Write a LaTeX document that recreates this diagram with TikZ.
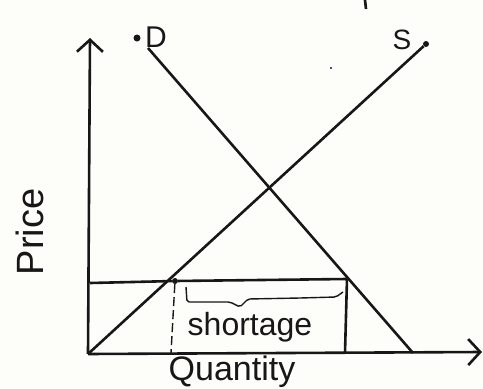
\documentclass[tikz,border=0pt]{standalone}
\usepackage{fontspec}
\setmainfont{Liberation Sans}
\usetikzlibrary{arrows.meta}
\definecolor{inkblack}{RGB}{25,22,24}
\definecolor{paperwhite}{RGB}{253,253,250}

\begin{document}
\begin{tikzpicture}[
    x=1pt, y=-1pt,
    >={Straight Barb[length=12pt, width=26pt]},
    pen/.style={draw=inkblack, line width=2.6pt},
    thinpen/.style={draw=inkblack, line width=1.4pt},
    hand/.style={text=inkblack, font=\fontsize{30}{32}\selectfont, inner sep=0pt},
    blob/.style={circle, fill=inkblack, inner sep=0pt, minimum size=7pt}
]

% Paper
\useasboundingbox (0,0) rectangle (483,389);
\fill[paperwhite] (0,0) rectangle (483,389);

% Axes
\coordinate (O) at (88,354);
\coordinate (Ytop) at (90,38);
\coordinate (Xend) at (482,352);
\draw[pen, ->] (O) -- (Ytop);
\draw[pen, ->] (O) -- (Xend);

% Demand curve D
\node[blob] (Ddot) at (137,38) {};
\node[hand] (Dlab) at (156,37) {D};
\coordinate (Dstart) at (148,48);
\coordinate (Dend) at (413,353);
\draw[pen] (Dstart) -- (Dend);

% Supply curve S
\node[blob, minimum size=6pt] (Sdot) at (426,44) {};
\node[hand, font=\fontsize{28}{30}\selectfont] (Slab) at (402,40) {S};
\draw[pen] (O) -- (Sdot);

% Price line and shortage box
\coordinate (Pleft) at (90,283);
\node[blob, minimum size=6pt] (Qs) at (175,281) {};
\coordinate (Qd) at (347,279);
\coordinate (Qdbase) at (345,353);
\draw[pen] (Pleft) -- (Qs) -- (Qd) -- (Qdbase);
\coordinate (Qsbase) at (171,353);
\draw[thinpen, dashed, dash pattern=on 9pt off 4pt] (Qs) -- (Qsbase);

% Bracket over the shortage
\draw[thinpen, rounded corners=2pt]
    (186,287) -- (187,302) -- (230,302) -- (240,307) -- (248,299)
    -- (300,298) -- (336,297) -- (343,292);
\node[hand, font=\fontsize{32}{34}\selectfont] (short) at (250,327) {shortage};

% Axis labels
\node[hand, font=\fontsize{34}{36}\selectfont] (qlab) at (232,372) {Quantity};
\node[hand, rotate=90, font=\fontsize{38}{40}\selectfont] (plab) at (30,232) {Price};

% Stray pen marks
\coordinate (markA) at (365,0);
\coordinate (markB) at (366,9);
\draw[pen] (markA) -- (markB);
\fill[inkblack!70!blue] (331,68) circle (1.2pt);

\end{tikzpicture}
\end{document}
